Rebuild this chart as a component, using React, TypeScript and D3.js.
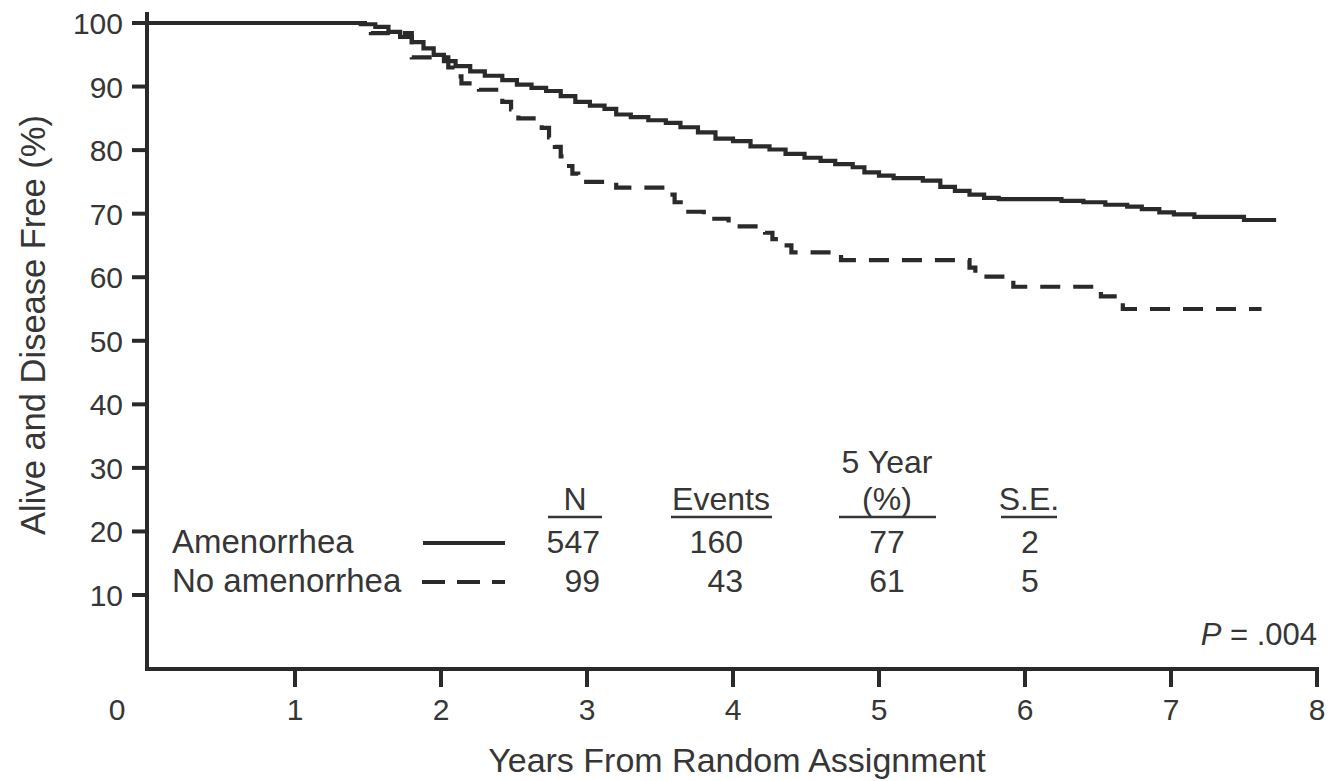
import React, { useEffect } from "react";
import * as d3 from "d3";

const W = 1332;
const H = 781;

// Amenorrhea (solid) Kaplan-Meier estimate
const amenTimes = [0, 1.45, 1.55, 1.64, 1.72, 1.80, 1.88, 1.95, 2.02, 2.10, 2.20, 2.30, 2.42, 2.52, 2.62, 2.72, 2.82, 2.92, 3.02, 3.12, 3.20, 3.30, 3.42, 3.54, 3.64, 3.76, 3.88, 4.00, 4.12, 4.25, 4.36, 4.49, 4.60, 4.70, 4.82, 4.90, 5.00, 5.10, 5.30, 5.42, 5.52, 5.62, 5.72, 5.82, 6.25, 6.40, 6.55, 6.70, 6.80, 6.92, 7.02, 7.16, 7.50, 7.72];
const amenValues = [100, 99.8, 99.4, 98.6, 97.8, 97.0, 96.0, 95.0, 94.0, 93.2, 92.4, 91.7, 91.0, 90.3, 89.8, 89.3, 88.5, 87.6, 87.0, 86.5, 85.6, 85.2, 84.7, 84.3, 83.6, 82.8, 81.8, 81.4, 80.6, 80.1, 79.4, 78.8, 78.3, 77.8, 77.3, 76.5, 76.0, 75.6, 75.2, 74.2, 73.6, 73.0, 72.5, 72.3, 72.0, 71.8, 71.4, 71.1, 70.7, 70.2, 69.9, 69.5, 69.0, 69.0];

// No amenorrhea (dashed)
const noAmenTimes = [0, 1.52, 1.80, 2.05, 2.10, 2.14, 2.26, 2.42, 2.48, 2.53, 2.69, 2.74, 2.78, 2.82, 2.86, 2.90, 2.94, 3.20, 3.56, 3.60, 3.66, 3.80, 3.97, 4.22, 4.27, 4.32, 4.40, 4.74, 5.62, 5.66, 5.92, 6.52, 6.67, 7.62];
const noAmenValues = [100, 98.4, 94.6, 93.0, 91.6, 90.5, 89.5, 87.6, 86.4, 85.0, 83.5, 82.0, 80.5, 79.0, 77.5, 76.3, 75.0, 74.1, 73.0, 71.8, 70.3, 69.2, 68.0, 67.0, 66.0, 65.0, 63.9, 62.7, 61.5, 60.1, 58.5, 57.0, 55.0, 55.0];

const yTicks = [10, 20, 30, 40, 50, 60, 70, 80, 90, 100];
const xTicks = [1, 2, 3, 4, 5, 6, 7, 8];

const groupNames = ["Amenorrhea", "No amenorrhea"];
const colN = ["547", "99"];
const colEvents = ["160", "43"];
const colFive = ["77", "61"];
const colSE = ["2", "5"];

const INK = "#2a2a2a";
const TEXT = "#363636";
const FONT = "'Liberation Sans', Arial, Helvetica, sans-serif";

export default function App() {
  useEffect(() => {
    document.body.style.margin = "0";
    document.body.style.background = "#fff";
  }, []);

  const x = d3.scaleLinear().domain([0, 8]).range([149, 1317]);
  const y = d3.scaleLinear().domain([10, 100]).range([595, 23]);
  const axisY = 669;
  const axisX = 147;

  const line = d3
    .line<[number, number]>()
    .x((d) => x(d[0]))
    .y((d) => y(d[1]))
    .curve(d3.curveStepAfter);

  const amenData = amenTimes.map((t, i) => [t, amenValues[i]] as [number, number]);
  const noAmenData = noAmenTimes.map((t, i) => [t, noAmenValues[i]] as [number, number]);

  const rowBase = [553, 592];

  return (
    <svg width={W} height={H} style={{ display: "block", background: "#fff" }} fontFamily={FONT}>
      {/* curves */}
      <path d={line(amenData) || ""} fill="none" stroke={INK} strokeWidth={4.2} />
      <path d={line(noAmenData) || ""} fill="none" stroke={INK} strokeWidth={4.2} strokeDasharray="20 13" />

      {/* axes */}
      <path d={`M${axisX},12 V${axisY} H${x(8)} V${axisY + 18}`} fill="none" stroke={INK} strokeWidth={4} />
      {yTicks.map((v) => (
        <g key={"yt" + v}>
          <line x1={axisX - 15} x2={axisX} y1={y(v)} y2={y(v)} stroke={INK} strokeWidth={4} />
          <text x={123} y={y(v) + 11} textAnchor="end" fontSize={30} fill={TEXT}>
            {v}
          </text>
        </g>
      ))}
      {xTicks.map((t) => (
        <g key={"xt" + t}>
          {t < 8 && <line x1={x(t)} x2={x(t)} y1={axisY} y2={axisY + 18} stroke={INK} strokeWidth={4} />}
          <text x={x(t)} y={720} textAnchor="middle" fontSize={30} fill={TEXT}>
            {t}
          </text>
        </g>
      ))}
      <text x={x(0) - 32} y={720} textAnchor="middle" fontSize={30} fill={TEXT}>
        0
      </text>

      {/* axis titles */}
      <text x={737} y={772} textAnchor="middle" fontSize={34} fill={TEXT}>
        Years From Random Assignment
      </text>
      <text transform="translate(45,325) rotate(-90)" textAnchor="middle" fontSize={34.5} fill={TEXT}>
        Alive and Disease Free (%)
      </text>

      {/* legend */}
      {groupNames.map((g, i) => (
        <text key={g} x={172} y={rowBase[i]} fontSize={33} fill={TEXT}>
          {g}
        </text>
      ))}
      <line x1={423} x2={505} y1={543} y2={543} stroke={INK} strokeWidth={4} />
      <line x1={422} x2={505} y1={582} y2={582} stroke={INK} strokeWidth={4} strokeDasharray="23 12" />

      {/* table headers */}
      <text x={575} y={510} textAnchor="middle" fontSize={32} fill={TEXT}>N</text>
      <line x1={548} x2={602} y1={517} y2={517} stroke={TEXT} strokeWidth={2.5} />
      <text x={721} y={510} textAnchor="middle" fontSize={32} fill={TEXT}>Events</text>
      <line x1={671} x2={772} y1={517} y2={517} stroke={TEXT} strokeWidth={2.5} />
      <text x={887} y={473} textAnchor="middle" fontSize={32} fill={TEXT}>5 Year</text>
      <text x={887} y={510} textAnchor="middle" fontSize={32} fill={TEXT}>(%)</text>
      <line x1={839} x2={936} y1={517} y2={517} stroke={TEXT} strokeWidth={2.5} />
      <text x={1029} y={510} textAnchor="middle" fontSize={32} fill={TEXT}>S.E.</text>
      <line x1={1001} x2={1057} y1={517} y2={517} stroke={TEXT} strokeWidth={2.5} />

      {/* table values */}
      {colN.map((v, i) => (
        <text key={"n" + i} x={600} y={rowBase[i]} textAnchor="end" fontSize={32} fill={TEXT}>{v}</text>
      ))}
      {colEvents.map((v, i) => (
        <text key={"e" + i} x={743} y={rowBase[i]} textAnchor="end" fontSize={32} fill={TEXT}>{v}</text>
      ))}
      {colFive.map((v, i) => (
        <text key={"f" + i} x={887} y={rowBase[i]} textAnchor="middle" fontSize={32} fill={TEXT}>{v}</text>
      ))}
      {colSE.map((v, i) => (
        <text key={"s" + i} x={1030} y={rowBase[i]} textAnchor="middle" fontSize={32} fill={TEXT}>{v}</text>
      ))}

      {/* p value */}
      <text x={1317} y={645} textAnchor="end" fontSize={31} fill={TEXT}>
        <tspan fontStyle="italic">P</tspan> = .004
      </text>
    </svg>
  );
}
